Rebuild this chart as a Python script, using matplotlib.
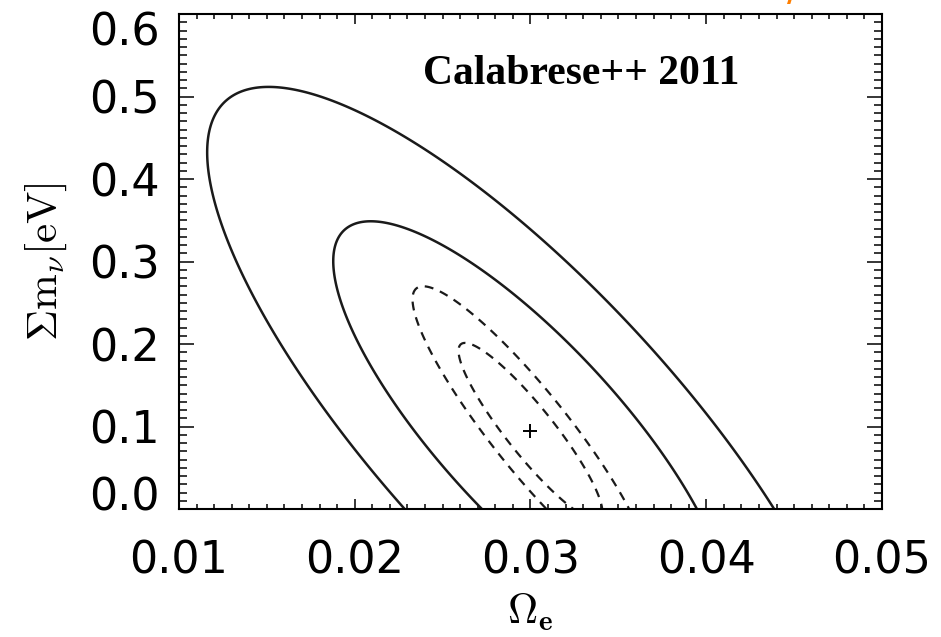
import matplotlib
matplotlib.use("Agg")
import matplotlib.pyplot as plt
import matplotlib.transforms as mtransforms
import numpy as np

# Gaussian approximation of the two posteriors
# (same best fit point, different widths / correlation)
center = (0.0300, 0.094)          # Omega_e, sum m_nu
solid_sigma = (0.0074, 0.168)     # wide constraint (solid)
solid_rho = -0.81
dashed_sigma = (0.0027, 0.0708)   # tight constraint (dashed)
dashed_rho = -0.91
levels = [2.30, 6.18]             # 68% / 95% delta chi^2 in 2D

x_ticks = [0.01, 0.02, 0.03, 0.04, 0.05]
y_ticks = [0.0, 0.1, 0.2, 0.3, 0.4, 0.5, 0.6]

LINE_COLOR = "#1a1a1a"

plt.rcParams["font.family"] = "DejaVu Sans"
plt.rcParams["mathtext.fontset"] = "cm"

fig = plt.figure(figsize=(9.41, 6.37), dpi=100)
ax = fig.add_axes([0.1902, 0.2009, 0.7471, 0.7771])


def chi2_grid(xx, yy, sigma, rho):
    u = (xx - center[0]) / sigma[0]
    v = (yy - center[1]) / sigma[1]
    return (u * u - 2 * rho * u * v + v * v) / (1 - rho * rho)


gx = np.linspace(0.005, 0.055, 600)
gy = np.linspace(-0.3, 0.7, 600)
XX, YY = np.meshgrid(gx, gy)

ax.contour(XX, YY, chi2_grid(XX, YY, solid_sigma, solid_rho), levels=levels,
           colors=LINE_COLOR, linewidths=1.8, linestyles="solid")
ax.contour(XX, YY, chi2_grid(XX, YY, dashed_sigma, dashed_rho), levels=levels,
           colors=LINE_COLOR, linewidths=1.6, linestyles=[(0, (4, 3.2))])

ax.plot([center[0]], [center[1]], marker="+", color="black",
        markersize=10, markeredgewidth=1.4, linestyle="None")

ax.text(0.572, 0.878, "Calabrese++ 2011", transform=ax.transAxes,
        family="Liberation Serif", fontweight="bold", fontsize=30,
        ha="center", va="center")

ax.set_xlim(0.01, 0.05)
ax.set_ylim(0.0, 0.6)
ax.set_xticks(x_ticks)
ax.set_yticks(y_ticks)
ax.set_xticklabels([f"{t:.2f}" for t in x_ticks])
ax.set_yticklabels([f"{t:.1f}" for t in y_ticks])
ax.set_xticks(np.arange(0.010, 0.0505, 0.001), minor=True)
ax.set_yticks(np.arange(0.0, 0.605, 0.01), minor=True)

ax.tick_params(which="both", direction="in", top=True, right=True,
               width=1.1, labelsize=32)
ax.tick_params(axis="x", which="major", length=7, pad=22)
ax.tick_params(axis="x", which="minor", length=3.8)
ax.tick_params(axis="y", which="major", length=10.5, pad=14)
ax.tick_params(axis="y", which="minor", length=5.8)
for sp in ax.spines.values():
    sp.set_linewidth(1.5)

# IDL nudges the end labels inwards
fig.canvas.draw()
ylabels = ax.get_yticklabels()
ylabels[0].set_transform(ylabels[0].get_transform() +
                         mtransforms.ScaledTranslation(0, 16 / 100, fig.dpi_scale_trans))
ylabels[-1].set_transform(ylabels[-1].get_transform() +
                          mtransforms.ScaledTranslation(0, -14 / 100, fig.dpi_scale_trans))

ax.set_xlabel(r"$\Omega_{\mathbf{e}}$", fontsize=30, labelpad=6)
ax.set_ylabel(r"$\Sigma\mathrm{m}_\nu[\mathrm{eV}]$", fontsize=31, labelpad=14)

# clipped orange glyph from the slide title above
fig.text(0.842, 1.012, "/", color="#ff7f00", fontsize=22, fontweight="bold",
         ha="center", va="center")

fig.savefig("out.png", dpi=100)
